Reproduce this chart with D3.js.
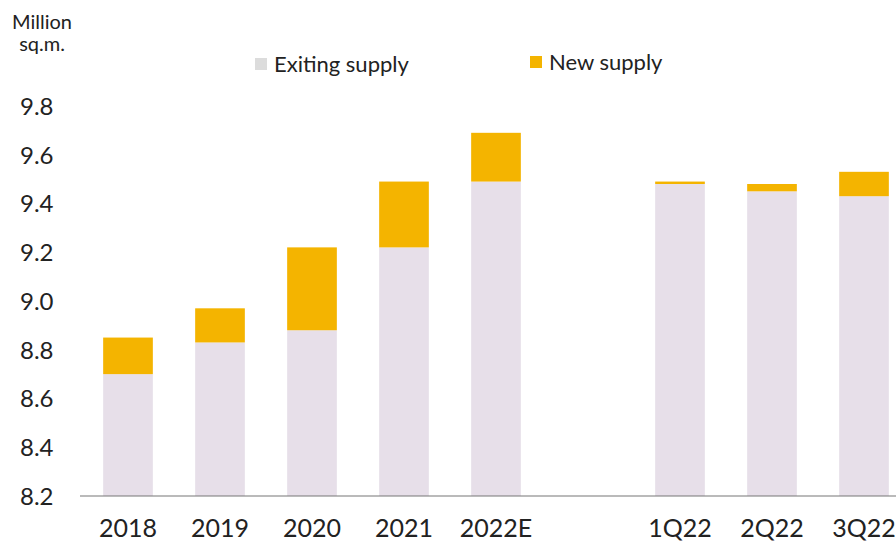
<!DOCTYPE html>
<html>
<head>
<meta charset="utf-8">
<script src="https://cdn.jsdelivr.net/npm/d3@7"></script>
<style>
  body { margin: 0; background: #fff; }
  text { font-family: Lato, "Open Sans", sans-serif; fill: #222; }
</style>
</head>
<body>
<div id="chart"></div>
<script>

// chart data
const categories = ['2018', '2019', '2020', '2021', '2022E', '', '1Q22', '2Q22', '3Q22'];
const existingSupply = [8.70, 8.83, 8.88, 9.22, 9.49, null, 9.48, 9.45, 9.43];
const newSupply = [0.15, 0.14, 0.34, 0.27, 0.20, null, 0.01, 0.03, 0.10];
const yTicks = [8.2, 8.4, 8.6, 8.8, 9.0, 9.2, 9.4, 9.6, 9.8];

const width = 896, height = 545;
const colExisting = '#e7dfe9', colNew = '#f4b400';

let svg = d3.select('#chart')
    .append('svg')
    .attr('width', width)
    .attr('height', height);

let x = d3.scaleBand()
    .domain(categories)
    .range([82, 910])
    .paddingInner(0.46)
    .paddingOuter(0.23);

let y = d3.scaleLinear()
    .domain([8.2, 9.8])
    .range([496, 106]);

let rows = categories.map((c, i) => ({ cat: c, existing: existingSupply[i], added: newSupply[i] }))
    .filter(d => d.existing !== null);

// existing supply
svg.selectAll('rect.existing')
    .data(rows).enter()
    .append('rect')
    .attr('class', 'existing')
    .attr('x', d => x(d.cat))
    .attr('width', x.bandwidth())
    .attr('y', d => y(d.existing))
    .attr('height', d => y(8.2) - y(d.existing))
    .attr('fill', colExisting);

// new supply on top
svg.selectAll('rect.added')
    .data(rows).enter()
    .append('rect')
    .attr('class', 'added')
    .attr('x', d => x(d.cat))
    .attr('width', x.bandwidth())
    .attr('y', d => y(d.existing + d.added))
    .attr('height', d => y(d.existing) - y(d.existing + d.added))
    .attr('fill', colNew);

// baseline
svg.append('line')
    .attr('x1', 80).attr('x2', width)
    .attr('y1', y(8.2)).attr('y2', y(8.2))
    .attr('stroke', '#777').attr('stroke-width', 1.2);

// y axis labels
let yAxis = svg.append('g')
    .call(d3.axisLeft(y).tickValues(yTicks).tickFormat(d3.format('.1f')).tickSize(0));
yAxis.select('.domain').remove();
yAxis.selectAll('text')
    .attr('x', 20)
    .attr('dy', '0.35em')
    .attr('text-anchor', 'start')
    .style('font-size', '24px')
    .style('fill', '#222');

// x axis labels
let xAxis = svg.append('g')
    .attr('transform', 'translate(0,' + (y(8.2) + 20) + ')')
    .call(d3.axisBottom(x).tickSize(0));
xAxis.select('.domain').remove();
xAxis.selectAll('text')
    .style('font-size', '25px')
    .style('fill', '#222');

// unit label
svg.append('text').attr('x', 42).attr('y', 29)
    .attr('text-anchor', 'middle').style('font-size', '20px').text('Million');
svg.append('text').attr('x', 42).attr('y', 51)
    .attr('text-anchor', 'middle').style('font-size', '20px').text('sq.m.');

// legend
let legend = [
    { label: 'Exiting supply', color: '#dcdcdc', x: 255, y: 64 },
    { label: 'New supply', color: colNew, x: 530, y: 62 }
];
let lg = svg.selectAll('g.legend')
    .data(legend).enter()
    .append('g')
    .attr('class', 'legend')
    .attr('transform', d => 'translate(' + d.x + ',' + d.y + ')');
lg.append('rect')
    .attr('x', 0).attr('y', -6)
    .attr('width', 12).attr('height', 12)
    .attr('fill', d => d.color);
lg.append('text')
    .attr('x', 19).attr('dy', '0.35em')
    .style('font-size', '22px')
    .text(d => d.label);

</script>
</body>
</html>
